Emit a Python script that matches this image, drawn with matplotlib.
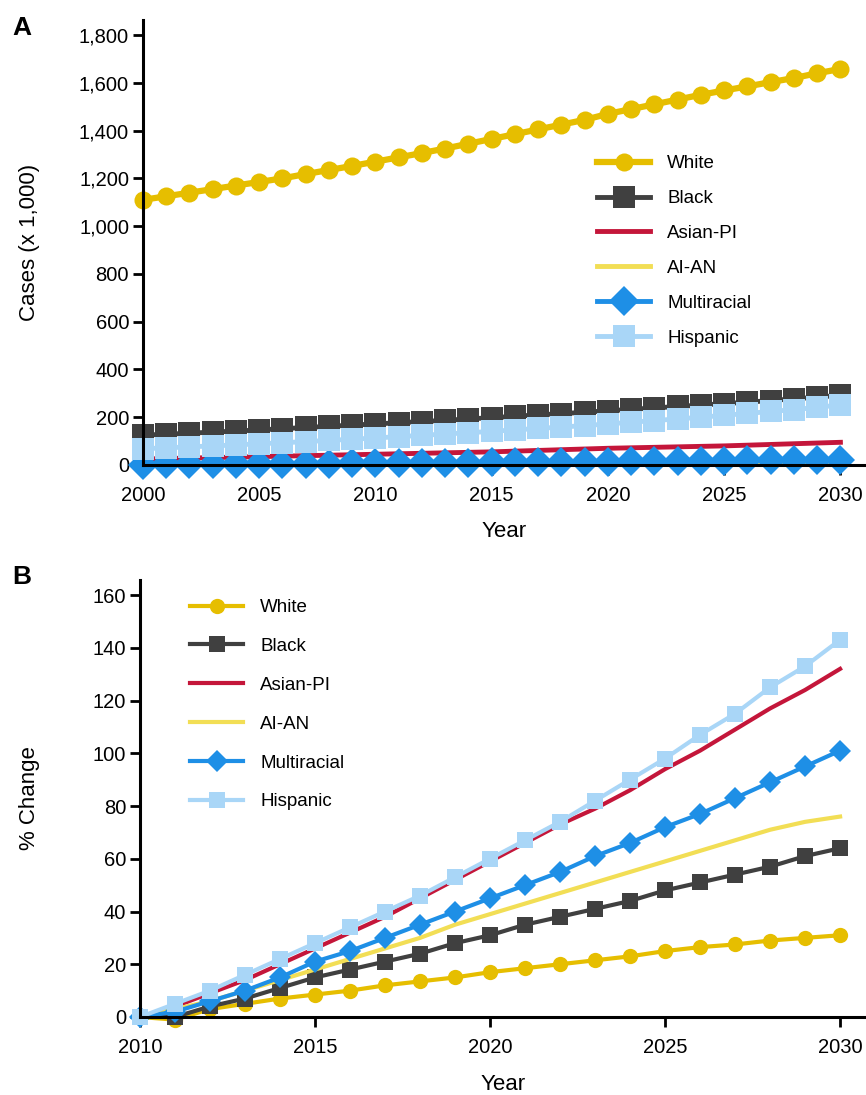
import numpy as np
import matplotlib
matplotlib.use("Agg")
import matplotlib.pyplot as plt

plt.rcParams['font.family'] = ['Liberation Sans', 'DejaVu Sans']

# ---- data: panel A, cases (x 1,000), 2000-2030 ----
years_a = list(range(2000, 2031))
white_a = [1110, 1125, 1140, 1155, 1170, 1185, 1200, 1218, 1235, 1252, 1270,
           1288, 1306, 1325, 1345, 1365, 1385, 1405, 1425, 1445, 1470,
           1490, 1510, 1530, 1550, 1568, 1585, 1603, 1620, 1640, 1658]
black_a = [125, 129, 133, 138, 142, 147, 152, 157, 162, 167, 172,
           177, 182, 187, 193, 198, 204, 210, 215, 221, 227,
           233, 239, 245, 251, 257, 263, 270, 277, 284, 292]
asian_a = [25, 27, 29, 31, 33, 35, 37, 39, 41, 43, 45,
           47, 49, 51, 53, 55, 58, 61, 64, 67, 70,
           72, 74, 76, 78, 80, 83, 86, 89, 92, 95]
aian_a = [2, 2, 2, 2, 2, 2, 2, 3, 3, 3, 3,
          3, 3, 3, 3, 3, 3, 3, 3, 4, 4,
          4, 4, 4, 4, 4, 4, 4, 4, 4, 4]
multi_a = [2, 3, 3, 4, 4, 5, 5, 6, 6, 7, 8,
           8, 9, 10, 10, 11, 12, 12, 13, 14, 14,
           15, 16, 16, 17, 18, 19, 20, 20, 21, 22]
hisp_a = [68, 72, 76, 80, 84, 89, 93, 98, 103, 108, 113,
          119, 124, 130, 135, 141, 147, 153, 159, 165, 172,
          179, 186, 193, 200, 208, 216, 224, 232, 241, 252]

# ---- data: panel B, % change, 2010-2030 ----
years_b = list(range(2010, 2031))
white_b = [0, -1, 3, 5, 7, 8.5, 10, 12, 13.5, 15, 17,
           18.5, 20, 21.5, 23, 25, 26.5, 27.5, 29, 30, 31]
black_b = [0, 0, 4, 7, 11, 15, 18, 21, 24, 28, 31,
           35, 38, 41, 44, 48, 51, 54, 57, 61, 64]
asian_b = [0, 4, 9, 14, 20, 26, 32, 38, 45, 52, 59,
           66, 73, 79, 86, 94, 101, 109, 117, 124, 132]
aian_b = [0, 3, 6, 10, 14, 18, 22, 26, 30, 35, 39,
          43, 47, 51, 55, 59, 63, 67, 71, 74, 76]
multi_b = [0, 2, 6, 10, 15, 21, 25, 30, 35, 40, 45,
           50, 55, 61, 66, 72, 77, 83, 89, 95, 101]
hisp_b = [0, 5, 10, 16, 22, 28, 34, 40, 46, 53, 60,
          67, 74, 82, 90, 98, 107, 115, 125, 133, 143]

labels = ['White', 'Black', 'Asian-PI', 'AI-AN', 'Multiracial', 'Hispanic']
colors = ['#E6BE00', '#404040', '#C4163A', '#F2DE55', '#1E8FE6', '#A9D6F7']
markers = ['o', 's', None, None, 'D', 's']


def style_axis(ax):
    for side in ['top', 'right']:
        ax.spines[side].set_visible(False)
    for side in ['left', 'bottom']:
        ax.spines[side].set_linewidth(2.2)
    ax.tick_params(axis='both', direction='out', length=7, width=2,
                   labelsize=14.5)
    ax.tick_params(axis='x', pad=8)
    ax.tick_params(axis='y', pad=3)


def draw_panel(ax, years, series, msizes, lws):
    for s, lab, c, m, ms, lw in zip(series, labels, colors, markers, msizes, lws):
        ax.plot(years, s, color=c, lw=lw, marker=m, ms=ms, label=lab,
                markeredgewidth=0, clip_on=False)


def add_legend(ax, x, y, spacing):
    ax.legend(loc='upper left', bbox_to_anchor=(x / W, 1 - y / H),
              bbox_transform=fig.transFigure, frameon=False, fontsize=13.5,
              numpoints=1, handlelength=2.85, handletextpad=0.9,
              labelspacing=spacing, borderpad=0, borderaxespad=0)


W, H = 866, 1095
fig = plt.figure(figsize=(W / 100, H / 100), dpi=100)

# panel A
axA = fig.add_axes([143 / W, 1 - 465 / H, 1 - 143 / W, (465 - 20) / H])
style_axis(axA)
draw_panel(axA, years_a, [white_a, black_a, asian_a, aian_a, multi_a, hisp_a],
           [13, 16, 0, 0, 15, 16], [4.5, 3.5, 3.5, 3.5, 3.5, 3.5])
axA.set_xlim(2000, 2031.1)
axA.set_ylim(0, 1863)
axA.set_xticks(range(2000, 2031, 5))
axA.set_yticks(range(0, 1801, 200))
axA.yaxis.set_major_formatter(plt.FuncFormatter('{:,.0f}'.format))
axA.set_xlabel('Year', fontsize=16, labelpad=12)
axA.set_ylabel('Cases (x 1,000)', fontsize=16, labelpad=28)
add_legend(axA, 597, 155, 0.95)
fig.text(12 / W, 1 - 28 / H, 'A', fontsize=19, fontweight='bold', va='center')

# panel B
axB = fig.add_axes([140 / W, 1 - 1017 / H, 1 - 140 / W, (1017 - 580) / H])
style_axis(axB)
draw_panel(axB, years_b, [white_b, black_b, asian_b, aian_b, multi_b, hisp_b],
           [11, 11, 0, 0, 11, 12], [3, 3, 3, 3, 3, 3])
axB.set_xlim(2010, 2030.74)
axB.set_ylim(0, 165.7)
axB.set_xticks(range(2010, 2031, 5))
axB.set_yticks(range(0, 161, 20))
axB.set_xlabel('Year', fontsize=16, labelpad=12)
axB.set_ylabel('% Change', fontsize=16, labelpad=38)
add_legend(axB, 190, 599, 1.16)
fig.text(12 / W, 1 - 577 / H, 'B', fontsize=19, fontweight='bold', va='center')

fig.savefig('out.png', dpi=100)
